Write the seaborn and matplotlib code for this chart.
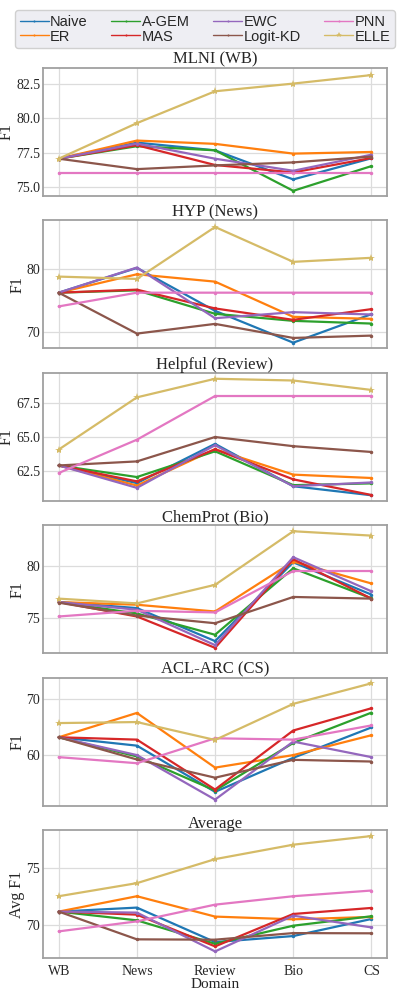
import numpy as np
import pandas as pd
import matplotlib
matplotlib.use("Agg")
import matplotlib.pyplot as plt
from matplotlib.lines import Line2D
import seaborn as sns

domains = ["WB", "News", "Review", "Bio", "CS"]
methods = ["Naive", "ER", "A-GEM", "MAS", "EWC", "Logit-KD", "PNN", "ELLE"]
colors = ["#1f77b4", "#ff7f0e", "#2ca02c", "#d62728", "#9467bd", "#8c564b", "#e377c2", "#d5bb67"]

titles = ["MLNI (WB)", "HYP (News)", "Helpful (Review)", "ChemProt (Bio)", "ACL-ARC (CS)", "Average"]

mlni = {
    "Naive":    [77.05, 78.22, 77.66, 75.54, 77.08],
    "ER":       [77.05, 78.37, 78.13, 77.42, 77.54],
    "A-GEM":    [77.05, 77.96, 77.66, 74.71, 76.51],
    "MAS":      [77.05, 78.03, 76.59, 76.05, 77.10],
    "EWC":      [77.05, 78.15, 77.05, 76.17, 77.34],
    "Logit-KD": [77.05, 76.29, 76.56, 76.78, 77.20],
    "PNN":      [75.98, 75.98, 75.98, 75.98, 75.98],
    "ELLE":     [77.05, 79.64, 81.96, 82.52, 83.14],
}
hyp = {
    "Naive":    [76.28, 80.21, 73.40, 68.35, 72.87],
    "ER":       [76.28, 79.20, 78.03, 72.45, 72.13],
    "A-GEM":    [76.28, 76.65, 72.93, 71.81, 71.38],
    "MAS":      [76.28, 76.76, 73.78, 71.97, 73.67],
    "EWC":      [76.28, 80.27, 72.23, 73.19, 72.82],
    "Logit-KD": [76.28, 69.79, 71.33, 69.10, 69.47],
    "PNN":      [74.10, 76.28, 76.28, 76.28, 76.28],
    "ELLE":     [78.83, 78.46, 86.70, 81.17, 81.81],
}
helpful = {
    "Naive":    [62.88, 61.57, 64.48, 61.34, 60.67],
    "ER":       [62.88, 61.39, 64.08, 62.20, 61.95],
    "A-GEM":    [62.88, 62.02, 63.93, 61.42, 61.55],
    "MAS":      [62.88, 61.70, 64.08, 61.85, 60.69],
    "EWC":      [62.88, 61.22, 64.38, 61.34, 61.62],
    "Logit-KD": [62.88, 63.18, 64.99, 64.31, 63.88],
    "PNN":      [62.32, 64.79, 68.03, 68.03, 68.03],
    "ELLE":     [64.06, 67.93, 69.31, 69.18, 68.48],
}
chemprot = {
    "Naive":    [76.49, 75.91, 72.73, 80.32, 77.21],
    "ER":       [76.49, 76.23, 75.58, 80.39, 78.28],
    "A-GEM":    [76.49, 75.39, 73.34, 79.74, 76.85],
    "MAS":      [76.49, 75.10, 72.08, 80.62, 76.82],
    "EWC":      [76.49, 75.75, 72.34, 80.81, 77.53],
    "Logit-KD": [76.43, 75.19, 74.45, 76.98, 76.82],
    "PNN":      [75.10, 75.65, 75.49, 79.48, 79.48],
    "ELLE":     [76.82, 76.36, 78.15, 83.31, 82.89],
}
aclarc = {
    "Naive":    [63.17, 61.68, 53.47, 59.52, 64.91],
    "ER":       [63.17, 67.49, 57.78, 60.00, 63.53],
    "A-GEM":    [63.17, 59.76, 53.71, 62.16, 67.54],
    "MAS":      [63.17, 62.75, 53.89, 64.37, 68.32],
    "EWC":      [63.17, 60.00, 52.10, 62.40, 59.64],
    "Logit-KD": [63.17, 59.22, 55.99, 59.16, 58.86],
    "PNN":      [59.64, 58.56, 62.99, 62.75, 65.27],
    "ELLE":     [65.69, 65.87, 62.69, 69.10, 72.75],
}
average = {
    "Naive":    [71.15, 71.50, 68.47, 69.00, 70.50],
    "ER":       [71.15, 72.50, 70.71, 70.47, 70.68],
    "A-GEM":    [71.15, 70.38, 68.32, 69.91, 70.74],
    "MAS":      [71.15, 70.88, 68.09, 70.94, 71.47],
    "EWC":      [71.15, 71.06, 67.65, 70.79, 69.76],
    "Logit-KD": [71.15, 68.71, 68.68, 69.26, 69.24],
    "PNN":      [69.41, 70.29, 71.76, 72.50, 73.00],
    "ELLE":     [72.50, 73.65, 75.76, 77.03, 77.79],
}
datasets = [mlni, hyp, helpful, chemprot, aclarc, average]
ylims = [(74.34, 83.67), (67.45, 87.77), (60.26, 69.76), (71.56, 83.9), (51.02, 73.77), (67.06, 78.32)]
yticks = [[75.0, 77.5, 80.0, 82.5], [70, 80], [62.5, 65.0, 67.5], [75, 80], [60, 70], [70, 75]]
yfmt = ["{:.1f}", "{:.0f}", "{:.1f}", "{:.0f}", "{:.0f}", "{:.0f}"]
ylabels = ["F1", "F1", "F1", "F1", "F1", "Avg F1"]

sns.set_theme(style="whitegrid")
plt.rcParams["font.family"] = ["Liberation Serif", "DejaVu Serif"]
plt.rcParams["axes.edgecolor"] = "#a0a0a0"
plt.rcParams["axes.linewidth"] = 1.3
plt.rcParams["grid.color"] = "#dcdcdc"
plt.rcParams["grid.linewidth"] = 0.9

fig, axes = plt.subplots(6, 1, figsize=(3.99, 9.97), dpi=100, sharex=False)
fig.subplots_adjust(left=0.108, right=0.970, top=0.932, bottom=0.039, hspace=0.19)

for i, ax in enumerate(axes):
    d = datasets[i]
    rows = []
    for m in methods:
        for dom, v in zip(domains, d[m]):
            rows.append({"Domain": dom, "F1": v, "Method": m})
    df = pd.DataFrame(rows)
    for m, c in zip(methods, colors):
        sub = df[df["Method"] == m]
        sns.lineplot(data=sub, x="Domain", y="F1", ax=ax, color=c, sort=False,
                     marker="*" if m == "ELLE" else "o",
                     markersize=6 if m == "ELLE" else 2.5,
                     markeredgewidth=0, linewidth=1.6, legend=False)
    ax.set_xlim(-0.2, 4.2)
    ax.set_ylim(*ylims[i])
    ax.set_yticks(yticks[i])
    ax.set_yticklabels([yfmt[i].format(t) for t in yticks[i]], fontsize=10)
    ax.set_xticks(range(len(domains)))
    ax.set_title(titles[i], fontsize=12, pad=1.5)
    ax.set_ylabel(ylabels[i], fontsize=11.5, labelpad=1)
    ax.tick_params(axis="x", which="both", length=3.5, color="#a0a0a0", width=0.8, pad=1.5)
    ax.tick_params(axis="y", which="both", length=0, pad=2)
    if i < 5:
        ax.set_xticklabels([])
        ax.set_xlabel("")
    else:
        ax.set_xticklabels(domains, fontsize=10)
        ax.set_xlabel("Domain", fontsize=11, labelpad=0)
    for s in ax.spines.values():
        s.set_visible(True)
        s.set_color("#a0a0a0")

handles = [Line2D([0], [0], color=c, lw=1.0, marker="*" if m == "ELLE" else "o",
                  markersize=4 if m == "ELLE" else 1.5, markeredgewidth=0)
           for m, c in zip(methods, colors)]
leg = fig.legend(handles, methods, loc="upper center", bbox_to_anchor=(0.514, 0.9895), ncol=4,
                 prop={"family": "Liberation Sans", "size": 10.5}, frameon=True,
                 handlelength=2.0, handletextpad=0.1, columnspacing=1.6,
                 labelspacing=0.05, borderpad=0.3, borderaxespad=0)
leg.get_frame().set_facecolor("#eeeef3")
leg.get_frame().set_edgecolor("#d0d0d0")
leg.get_frame().set_alpha(1.0)

fig.savefig("out.png", dpi=100)
